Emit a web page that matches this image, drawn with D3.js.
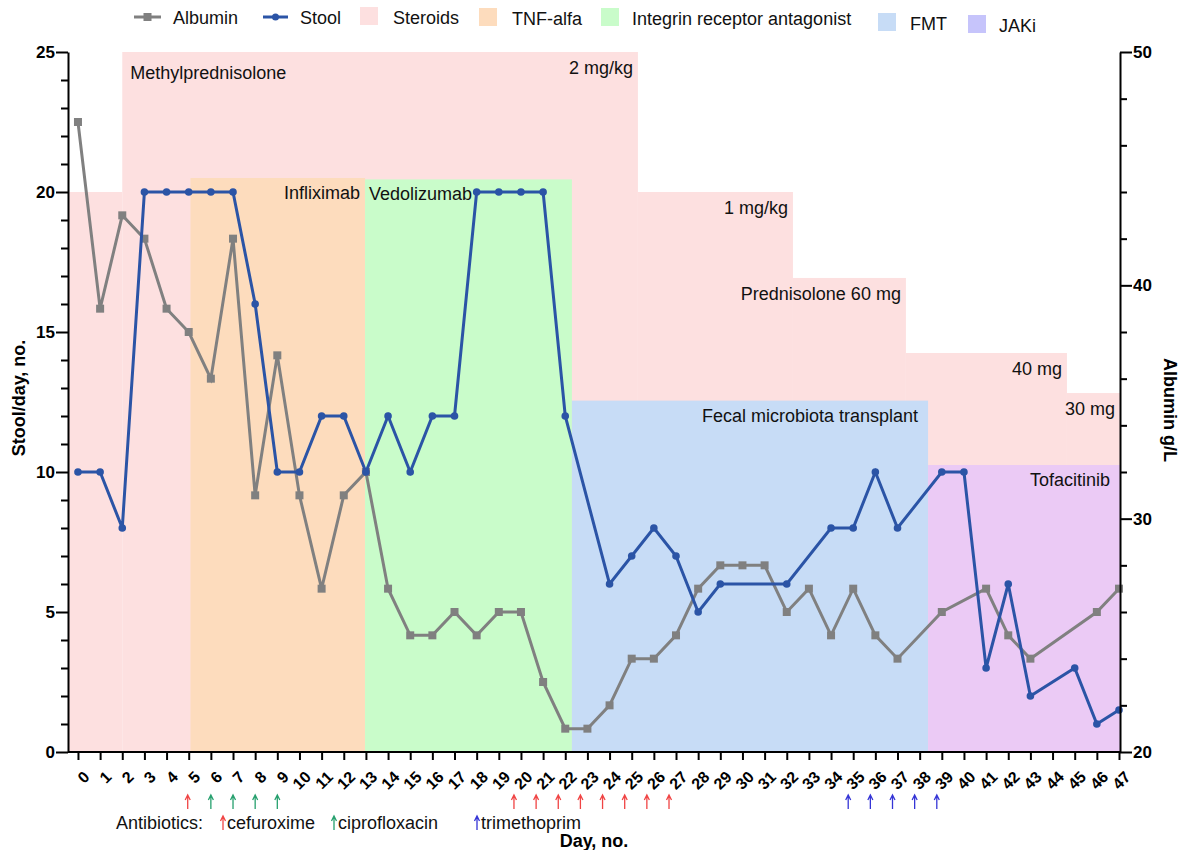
<html>
<head>
<script src="https://d3js.org/d3.v7.min.js"></script>
<style>
  body { margin: 0; background: #fff; }
  text { font-family: "Liberation Sans", Arial, sans-serif; }
</style>
</head>
<body>
<script>
// ---- data ----
var days = d3.range(0, 48);
// stool per day (null = not recorded)
var stool = [10,10,8,20,20,20,20,20,16,10,10,12,12,10,12,10,12,12,20,20,20,20,12,null,
             6,7,8,7,5,6,null,null,6,null,8,8,10,8,null,10,10,3,6,2,null,3,1,1.5];
// albumin g/L
var albumin = [47,39,43,42,39,38,36,42,31,37,31,27,31,32,27,25,25,26,25,26,26,23,21,21,
               22,24,24,25,27,28,28,28,26,27,25,27,25,24,null,26,null,27,25,24,null,null,26,27];

// treatment periods (day start, day end, level on stool axis)
var steroidStart = [-0.45, 2, 25.28, 32.28, 37.38, 44.65];
var steroidEnd   = [2, 25.28, 32.28, 37.38, 44.65, 47.05];
var steroidLevel = [20, 25, 20, 16.93, 14.25, 12.82];
var steroidText  = ["", "2 mg/kg", "1 mg/kg", "Prednisolone 60 mg", "40 mg", "30 mg"];

var drugNames = ["Infliximab", "Vedolizumab", "Fecal microbiota transplant", "Tofacitinib"];
var drugStart = [5.08, 12.96, 22.3, 38.38];
var drugEnd   = [12.96, 22.3, 38.38, 47.05];
var drugLevel = [20.5, 20.45, 12.55, 10.25];
var drugColor = ["#fddcbd", "#c9fcca", "#c7dcf6", "#ebcaf5"];

var cefuroxime = [5, 20, 21, 22, 23, 24, 25, 26, 27];
var ciprofloxacin = [6, 7, 8, 9];
var trimethoprim = [35, 36, 37, 38, 39];
var antibioticNames = ["cefuroxime", "ciprofloxacin", "trimethoprim"];
var antibioticColors = ["#f04444", "#26a06e", "#3535d6"];

var legendNames = ["Steroids", "TNF-alfa", "Integrin receptor antagonist", "FMT", "JAKi"];
var legendColors = ["#fde0e0", "#fddcbd", "#c9fcca", "#c7dcf6", "#c6c4fb"];

// ---- chart ----
var width = 1183, height = 850;
var svg = d3.select("body").append("svg").attr("width", width).attr("height", height);

var x = d3.scaleLinear().domain([-0.45, 47]).range([68, 1119]);
var yL = d3.scaleLinear().domain([0, 25]).range([752, 52]);
var yR = d3.scaleLinear().domain([20, 50]).range([752, 52]);

// steroid steps
svg.selectAll("rect.ster").data(steroidStart).enter().append("rect")
    .attr("class", "ster")
    .attr("x", function(d) { return x(d); })
    .attr("width", function(d, i) { return x(steroidEnd[i]) - x(d); })
    .attr("y", function(d, i) { return yL(steroidLevel[i]); })
    .attr("height", function(d, i) { return yL(0) - yL(steroidLevel[i]); })
    .attr("fill", "#fde0e0");

// other treatments
svg.selectAll("rect.drug").data(drugStart).enter().append("rect")
    .attr("class", "drug")
    .attr("x", function(d) { return x(d); })
    .attr("width", function(d, i) { return x(drugEnd[i]) - x(d); })
    .attr("y", function(d, i) { return yL(drugLevel[i]); })
    .attr("height", function(d, i) { return yL(0) - yL(drugLevel[i]); })
    .attr("fill", function(d, i) { return drugColor[i]; });

// band labels
svg.append("text").text("Methylprednisolone").attr("x", x(2) + 8).attr("y", 79)
    .attr("font-size", "18px").attr("fill", "#111");
svg.selectAll("text.ster").data(steroidText).enter().append("text")
    .attr("class", "ster")
    .text(function(d) { return d; })
    .attr("x", function(d, i) { return x(steroidEnd[i]) - 5; })
    .attr("y", function(d, i) { return yL(steroidLevel[i]) + 22; })
    .attr("text-anchor", "end").attr("font-size", "18px").attr("fill", "#111");
svg.selectAll("text.drug").data(drugNames).enter().append("text")
    .attr("class", "drug")
    .text(function(d) { return d; })
    .attr("x", function(d, i) { return i == 1 ? x(drugStart[i]) + 4 : x(drugEnd[i]) - (i == 0 ? 5 : 10); })
    .attr("y", function(d, i) { return yL(drugLevel[i]) + 21; })
    .attr("text-anchor", function(d, i) { return i == 1 ? "start" : "end"; })
    .attr("font-size", "18px").attr("fill", "#111");

// lines
var albPts = days.filter(function(d) { return albumin[d] != null; });
var stPts = days.filter(function(d) { return stool[d] != null; });

var albLine = d3.line().x(function(d) { return x(d); }).y(function(d) { return yR(albumin[d]); });
var stLine = d3.line().x(function(d) { return x(d); }).y(function(d) { return yL(stool[d]); });

svg.append("path").datum(albPts).attr("d", albLine)
    .attr("fill", "none").attr("stroke", "#808080").attr("stroke-width", 3);
svg.selectAll("rect.alb").data(albPts).enter().append("rect")
    .attr("class", "alb")
    .attr("x", function(d) { return x(d) - 4; })
    .attr("y", function(d) { return yR(albumin[d]) - 4; })
    .attr("width", 8).attr("height", 8).attr("fill", "#808080");

svg.append("path").datum(stPts).attr("d", stLine)
    .attr("fill", "none").attr("stroke", "#2b54a6").attr("stroke-width", 3);
svg.selectAll("circle.st").data(stPts).enter().append("circle")
    .attr("class", "st")
    .attr("cx", function(d) { return x(d); })
    .attr("cy", function(d) { return yL(stool[d]); })
    .attr("r", 3.8).attr("fill", "#2b54a6");

// axes
function styleAxis(g) {
    g.selectAll("path").attr("stroke", "#000").attr("stroke-width", 2);
    g.selectAll("line").attr("stroke", "#000").attr("stroke-width", 2);
    g.selectAll("text").attr("font-weight", "bold").attr("font-size", "17px")
        .attr("font-family", "Liberation Sans, Arial, sans-serif").attr("fill", "#000");
}

var gL = svg.append("g").attr("transform", "translate(68,0)");
gL.call(d3.axisLeft(yL).tickValues(d3.range(0, 26)).tickSize(7).tickFormat(function(d) { return d % 5 == 0 ? d : ""; }).tickSizeOuter(0));
gL.selectAll(".tick line").attr("x2", function(d) { return d % 5 == 0 ? -12 : -7; });
gL.selectAll(".tick text").attr("x", -13);
styleAxis(gL);

var gR = svg.append("g").attr("transform", "translate(1120,0)");
gR.call(d3.axisRight(yR).tickValues(d3.range(20, 51, 2)).tickSize(7).tickFormat(function(d) { return d % 10 == 0 ? d : ""; }).tickSizeOuter(0));
gR.selectAll(".tick line").attr("x2", function(d) { return d % 10 == 0 ? 12 : 7; });
gR.selectAll(".tick text").attr("x", 13);
styleAxis(gR);

var gX = svg.append("g").attr("transform", "translate(0,752)");
gX.call(d3.axisBottom(x).tickValues(days).tickSize(8).tickSizeOuter(0).tickFormat(d3.format("d")));
styleAxis(gX);
gX.select(".domain").attr("d", "M68,0H1120");
gX.selectAll(".tick text")
    .attr("font-size", "16px")
    .attr("text-anchor", "end")
    .attr("dy", "0.35em")
    .attr("transform", "translate(8,22) rotate(-45)")
    .attr("y", 0).attr("x", 0);

// axis titles
svg.append("text").text("Stool/day, no.")
    .attr("transform", "translate(25,398) rotate(-90)")
    .attr("text-anchor", "middle").attr("font-weight", "bold").attr("font-size", "18px");
svg.append("text").text("Albumin g/L")
    .attr("transform", "translate(1164,410) rotate(90)")
    .attr("text-anchor", "middle").attr("font-weight", "bold").attr("font-size", "18px");
svg.append("text").text("Day, no.")
    .attr("x", 594).attr("y", 847)
    .attr("text-anchor", "middle").attr("font-weight", "bold").attr("font-size", "18px");

// antibiotic arrows (drawn as small paths)
function arrowPath(cx, base) {
    return "M" + cx + "," + base + "V" + (base - 13) +
        "M" + (cx - 2.5) + "," + (base - 9) + "L" + cx + "," + (base - 14) + "L" + (cx + 2.5) + "," + (base - 9);
}
function arrows(list, color, dx) {
    svg.selectAll(null).data(list).enter().append("path")
        .attr("d", function(d) { return arrowPath(x(d) + dx(d), 809); })
        .attr("fill", "none").attr("stroke", color).attr("stroke-width", 1.3);
}
arrows(cefuroxime, antibioticColors[0], function(d) { return d < 10 ? -1 : -7; });
arrows(ciprofloxacin, antibioticColors[1], function(d) { return 0; });
arrows(trimethoprim, antibioticColors[2], function(d) { return -5; });

var ab = svg.append("g").attr("font-size", "18px").attr("fill", "#111");
ab.append("text").text("Antibiotics:").attr("x", 116).attr("y", 829);
var abX = [223, 334, 477];
ab.selectAll("path.k").data(antibioticNames).enter().append("path")
    .attr("d", function(d, i) { return arrowPath(abX[i], 830); })
    .attr("fill", "none").attr("stroke-width", 1.3)
    .attr("stroke", function(d, i) { return antibioticColors[i]; });
ab.selectAll("text.k").data(antibioticNames).enter().append("text")
    .attr("class", "k")
    .text(function(d) { return d; })
    .attr("x", function(d, i) { return abX[i] + 4; })
    .attr("y", 829);

// legend
var lg = svg.append("g").attr("font-size", "18px").attr("fill", "#111");
lg.append("line").attr("x1", 134).attr("x2", 161).attr("y1", 17).attr("y2", 17).attr("stroke", "#808080").attr("stroke-width", 3);
lg.append("rect").attr("x", 143.5).attr("y", 13).attr("width", 8).attr("height", 8).attr("fill", "#808080");
lg.append("text").text("Albumin").attr("x", 173).attr("y", 24);
lg.append("line").attr("x1", 263).attr("x2", 288).attr("y1", 17).attr("y2", 17).attr("stroke", "#2b54a6").attr("stroke-width", 3);
lg.append("circle").attr("cx", 275.5).attr("cy", 17).attr("r", 3.5).attr("fill", "#2b54a6");
lg.append("text").text("Stool").attr("x", 300).attr("y", 24);

var legX = [360, 479, 601, 878, 968];
var legTx = [393, 512, 632, 910, 999];
var legY = [7, 8, 8, 13, 15];
lg.selectAll("rect.sw").data(legendNames).enter().append("rect")
    .attr("class", "sw")
    .attr("x", function(d, i) { return legX[i]; })
    .attr("y", function(d, i) { return legY[i]; })
    .attr("width", 18).attr("height", 18)
    .attr("fill", function(d, i) { return legendColors[i]; });
lg.selectAll("text.sw").data(legendNames).enter().append("text")
    .attr("class", "sw")
    .text(function(d) { return d; })
    .attr("x", function(d, i) { return legTx[i]; })
    .attr("y", function(d, i) { return legY[i] + 17; });
</script>
</body>
</html>
